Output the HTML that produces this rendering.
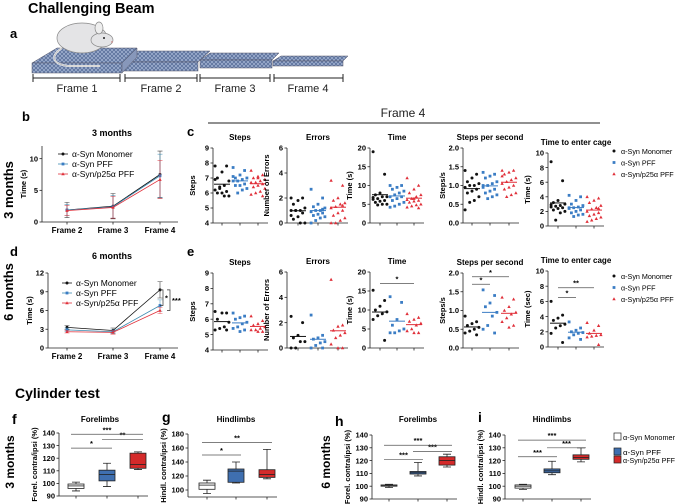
<!DOCTYPE html>
<html><head><meta charset="utf-8"><style>
html,body{margin:0;padding:0;background:#fff;}
svg{display:block;font-family:"Liberation Sans",sans-serif;}
.b{font-weight:bold;}
</style></head><body>
<svg id="fig" width="676" height="504" viewBox="0 0 676 504">
<defs>
<pattern id="hatch" width="4" height="4" patternUnits="userSpaceOnUse">
<rect width="4" height="4" fill="#9fb0d0"/>
<path d="M0,0 L4,4 M4,0 L0,4" stroke="#5a6f9a" stroke-width="0.8"/>
</pattern>
</defs>
<text x="28" y="13" font-size="14.5" class="b">Challenging Beam</text>
<text x="10" y="38" font-size="13" class="b">a</text>
<g>
<polygon points="273,61 281,56 348,56 343,61" fill="url(#hatch)" stroke="#556" stroke-width="0.5"/>
<rect x="273" y="61" width="70" height="5" fill="url(#hatch)" stroke="#556" stroke-width="0.5"/>
<polygon points="200,60 210,53 279,53 272,60" fill="url(#hatch)" stroke="#556" stroke-width="0.5"/>
<rect x="200" y="60" width="72" height="8" fill="url(#hatch)" stroke="#556" stroke-width="0.5"/>
<polygon points="123,62 138,51 210,51 198,62" fill="url(#hatch)" stroke="#556" stroke-width="0.5"/>
<rect x="123" y="62" width="75" height="9" fill="url(#hatch)" stroke="#556" stroke-width="0.5"/>
<polygon points="32,63 57,48 137,48 122,63" fill="url(#hatch)" stroke="#556" stroke-width="0.5"/>
<rect x="32" y="63" width="90" height="10" fill="url(#hatch)" stroke="#556" stroke-width="0.5"/>
<polygon points="122,63 137,48 137,57 122,73" fill="#8797ba" stroke="#556" stroke-width="0.5"/>
<path d="M62,48 C50,56 52,64 68,66 L100,66" fill="none" stroke="#eee" stroke-width="2"/>
<path d="M62,48 C50,56 52,64 68,66 L100,66" fill="none" stroke="#999" stroke-width="0.5"/>
<ellipse cx="82" cy="38" rx="25" ry="15" fill="#e4e4e6" stroke="#888" stroke-width="0.7"/>
<ellipse cx="102" cy="40" rx="11" ry="7" fill="#e4e4e6" stroke="#888" stroke-width="0.7"/>
<ellipse cx="99" cy="28" rx="4" ry="6" fill="#eee" stroke="#888" stroke-width="0.7"/>
<circle cx="104" cy="38" r="1" fill="#222"/>
<circle cx="112" cy="42" r="1" fill="#c99"/>
</g>
<g stroke="#222" stroke-width="1">
<path d="M33,78 H120 M33,74 V82 M120,74 V82 M125,78 H197 M125,74 V82 M197,74 V82 M200,78 H270 M200,74 V82 M270,74 V82 M274,78 H343 M274,74 V82 M343,74 V82"/>
</g>
<g font-size="11" text-anchor="middle" fill="#222">
<text x="77" y="92">Frame 1</text>
<text x="161" y="92">Frame 2</text>
<text x="235" y="92">Frame 3</text>
<text x="308" y="92">Frame 4</text>
<text x="403" y="117" font-size="12">Frame 4</text>
</g>
<line x1="208" y1="123" x2="600" y2="123" stroke="#222" stroke-width="1"/>
<text x="22" y="121" font-size="13" class="b">b</text>
<text x="187" y="136" font-size="13" class="b">c</text>
<text x="10" y="256" font-size="13" class="b">d</text>
<text x="187" y="256" font-size="13" class="b">e</text>
<text transform="translate(13,190) rotate(-90)" font-size="13" class="b" text-anchor="middle">3 months</text>
<text transform="translate(13,292) rotate(-90)" font-size="13" class="b" text-anchor="middle">6 months</text>
<text x="112" y="136" font-size="9" class="b" text-anchor="middle">3 months</text>
<text x="112" y="259" font-size="9" class="b" text-anchor="middle">6 months</text>
<text x="15" y="398" font-size="14" class="b">Cylinder test</text>
<text x="12" y="424" font-size="14" class="b">f</text>
<text x="162" y="422" font-size="14" class="b">g</text>
<text x="335" y="426" font-size="14" class="b">h</text>
<text x="478" y="422" font-size="14" class="b">i</text>
<text transform="translate(14,462) rotate(-90)" font-size="12" class="b" text-anchor="middle">3 months</text>
<text transform="translate(330,462) rotate(-90)" font-size="12" class="b" text-anchor="middle">6 months</text>
</svg>
<script>
// ---- line chart data (b, d) ----
const frames = ["Frame 2","Frame 3","Frame 4"];
const bMono = [1.9, 2.5, 7.5];
const bPFF = [1.9, 2.4, 7.3];
const bP25 = [1.8, 2.3, 6.7];
const bErrMono = [1.2, 2.0, 3.7];
const bErrPFF = [0.9, 1.8, 3.4];
const bErrP25 = [0.8, 1.7, 3.0];
const bTicks = [0, 5, 10];
const dMono = [3.3, 2.8, 9.3];
const dPFF = [2.9, 2.6, 6.8];
const dP25 = [2.6, 2.5, 6.0];
const dErrMono = [0.3, 0.4, 1.3];
const dErrPFF = [0.3, 0.3, 0.9];
const dErrP25 = [0.2, 0.3, 0.5];
const dTicks = [0, 3, 6, 9, 12];
// ---- scatter data (c: 3 months, e: 6 months) ----
const cStepsMono = [7.8,7.8,7.4,7.0,6.8,6.5,6.3,6.2,6.1,6.0,6.0,5.8,5.8,6.4,6.9];
const cStepsPFF = [7.7,7.5,7.2,7.0,7.0,6.9,6.8,6.8,6.6,6.5,6.5,6.3,6.2,6.0,7.1];
const cStepsP25 = [7.5,7.2,7.1,7.0,6.9,6.8,6.7,6.7,6.6,6.5,6.4,6.3,6.1,6.0,5.9,5.8,7.0];
const cErrMono = [2,2,1.8,1.5,1.2,1,1,1,0.8,0.5,0.3,0,0,1,0.6];
const cErrPFF = [2.7,2.0,1.5,1.3,1.2,1.0,1.0,0.9,0.8,0.7,0.6,0.5,0.4,0.2,0,1.1];
const cErrP25 = [3.4,3.0,2.0,1.8,1.6,1.5,1.3,1.2,1.0,0.8,0.6,0.4,0.2,0,0,1.4];
const cTimeMono = [19,13,8,7.5,7,7,6.5,6.3,6,5.8,5.5,5,5,4.8,6.8];
const cTimePFF = [10,10,9.5,9,8.5,8,7.5,7,7,6.5,6,5.5,5,4.5,4.2];
const cTimeP25 = [12,10,9,8,7.5,7,6.5,6.2,6,5.8,5.5,5,4.8,4.5,4.2,4,6.5];
const cSpsMono = [1.4,1.3,1.2,1.1,1.05,1.0,1.0,0.95,0.9,0.85,0.8,0.7,0.6,0.55,0.35];
const cSpsPFF = [1.35,1.3,1.25,1.2,1.1,1.05,1.0,0.95,0.9,0.85,0.8,0.75,0.7,0.65,1.0];
const cSpsP25 = [1.4,1.4,1.35,1.3,1.2,1.15,1.1,1.05,1.0,0.95,0.9,0.8,0.75,0.7,1.25];
const cCageMono = [8.8,6.2,3.5,3.2,3,2.8,2.7,2.6,2.5,2.4,2.2,2,1.8,0.8,2.9];
const cCagePFF = [4.2,4,3.5,3,2.8,2.6,2.5,2.4,2.2,2,1.8,1.6,1.5,1.3,2.5];
const cCageP25 = [4,3.8,3.5,3.2,2.8,2.5,2.3,2,1.8,1.6,1.4,1.2,1,0.8,0.6,2.4];
const eStepsMono = [6.5,6.4,6.4,6.0,5.8,5.5,5.4,5.3,5.3];
const eStepsPFF = [6.4,6.2,6.1,6.0,5.8,5.7,5.5,5.4,5.3,5.2];
const eStepsP25 = [6.2,5.9,5.7,5.6,5.5,5.4,5.3,5.3,5.2,5.2];
const eErrMono = [2.5,2.0,1.0,0.8,0.5,0.5,0,0];
const eErrPFF = [2.6,1.0,0.8,0.7,0.5,0.4,0.2,0,0];
const eErrP25 = [5.4,1.8,1.7,1.4,1.2,1.0,0.8,0.3,0,0];
const eTimeMono = [15.2,12.5,11,10,9.5,9,8.5,7.5,2];
const eTimePFF = [13.5,12,7.5,6,5,4.5,4,4];
const eTimeP25 = [9,8,7.5,7,6.5,6,5,4.5,4,4];
const eSpsMono = [0.85,0.7,0.65,0.6,0.55,0.5,0.45,0.4,0.35];
const eSpsPFF = [1.55,1.4,1.2,1.1,0.95,0.85,0.6,0.5,0.4];
const eSpsP25 = [1.35,1.3,1.1,1.0,0.95,0.9,0.8,0.7,0.6,0.55];
const eCageMono = [6,4.2,3.8,3.5,3,2.8,2.5,1.8,0.6];
const eCagePFF = [3.3,2.5,2.2,2,1.9,1.8,1.6,1.2,1];
const eCageP25 = [3.2,2.8,2.2,1.8,1.6,1.5,1.4,1.3,0.3];
const stepsTicks = [4,5,6,7,8,9];
const errTicks = [0,2,4,6];
const timeTicks = [0,5,10,15,20];
const spsTicks = [0,0.5,1.0,1.5,2.0];
const spsTickLabels = ["0.0","0.5","1.0","1.5","2.0"];
const cageTicks = [0,2,4,6,8,10];
// ---- box plot data (min, q1, median, q3, max) ----
const fMono = [94,96,98,99.5,101];
const fPFF = [97.5,102,107,110.5,116];
const fP25 = [111,112,115,124,125];
const gMono = [95,101,107,110,114];
const gPFF = [110,111,127,130,140];
const gP25 = [116,118,122,129,158];
const hMono = [99,100,100.5,101,101.5];
const hPFF = [108,109.5,110.5,111.5,118.5];
const hP25 = [115,116.5,120,123,125];
const iMono = [97.5,98.5,100,101,101.5];
const iPFF = [109,110.5,112,113.5,119.5];
const iP25 = [119,121,122.5,124.5,130];
const cyl140Ticks = [90,100,110,120,130,140];
const cyl180Ticks = [100,120,140,160,180];
const groupNames = ["α-Syn Monomer","α-Syn PFF","α-Syn/p25α PFF"];

const NS = "http://www.w3.org/2000/svg";
const svg = document.getElementById("fig");
const COL = ["#111111","#3b7dc4","#e0303a"];
const LCOL = ["#111111","#3b8ab0","#e0303a"];
function mk(tag, attrs, parent){
  const e = document.createElementNS(NS, tag);
  for (const k in attrs) e.setAttribute(k, attrs[k]);
  (parent || svg).appendChild(e);
  return e;
}
function txt(x, y, s, attrs, parent){
  const t = mk("text", Object.assign({x:x, y:y, "font-size":8}, attrs||{}), parent);
  t.textContent = s;
  return t;
}
function marker(g, x, y, k){
  let m;
  if (k === 0) m = mk("circle", {cx:x, cy:y, r:1.5, fill:COL[0]}, g);
  else if (k === 1) m = mk("rect", {x:x-1.4, y:y-1.4, width:2.8, height:2.8, fill:COL[1]}, g);
  else m = mk("polygon", {points:(x)+","+(y-1.8)+" "+(x-1.7)+","+(y+1.3)+" "+(x+1.7)+","+(y+1.3), fill:COL[2]}, g);
  return m;
}
function yaxis(g, ax, yTop, yBot, min, max, ticks, labels){
  const sy = v => yBot - (v - min) / (max - min) * (yBot - yTop);
  const a = mk("line", {x1:ax, y1:yTop, x2:ax, y2:yBot, stroke:"#222", "stroke-width":0.8}, g);
  
  
  ticks.forEach((t, i) => {
    mk("line", {x1:ax-2.5, y1:sy(t), x2:ax, y2:sy(t), stroke:"#222", "stroke-width":0.8}, g);
    const lb = txt(ax-4, sy(t)+2.7, labels ? labels[i] : String(t), {"text-anchor":"end", "font-weight":"bold", "font-size":7.5}, g);
    
    
  });
  return sy;
}
function ytitle(g, x, cy, s, size){
  const t = txt(0, 0, s, {transform:"translate("+x+","+cy+") rotate(-90)", "text-anchor":"middle", "font-weight":"bold", "font-size":size||7.5}, g);
  
  
}
function xaxis(g, ax, yBot, gx){
  const end = gx[2] + 10;
  const l = mk("line", {x1:ax, y1:yBot, x2:end, y2:yBot, stroke:"#222", "stroke-width":0.8}, g);
  
  
  gx.forEach(x => mk("line", {x1:x, y1:yBot, x2:x, y2:yBot+2.5, stroke:"#222", "stroke-width":0.8}, g));
}
function sig(g, x1, x2, y, s){
  const l = mk("line", {x1:x1, y1:y, x2:x2, y2:y, stroke:"#555", "stroke-width":0.7}, g);
  
  
  const t = txt((x1+x2)/2, y-2, s, {"text-anchor":"middle", "font-size":7.5, "font-weight":"bold"}, g);
  
  
}
function scatter(name, title, ylab, ax, yTop, yBot, min, max, ticks, labels, series, gx, sigs){
  const g = mk("g", {});
  
  
  const tt = txt(gx[1], yTop-8, title, {"text-anchor":"middle", "font-weight":"bold", "font-size":8}, g);
  
  
  const sy = yaxis(g, ax, yTop, yBot, min, max, ticks, labels);
  xaxis(g, ax, yBot, gx);
  ytitle(g, ax-18, (yTop+yBot)/2, ylab);
  series.forEach((arr, k) => {
    arr.forEach((v, i) => {
      const off = (((i * 5) % 7) - 3) * 2.3;
      const m = marker(g, gx[k] + off, sy(v), k);
      
      
    });
    const mean = arr.reduce((a, b) => a + b, 0) / arr.length;
    const ml = mk("line", {x1:gx[k]-8, y1:sy(mean), x2:gx[k]+8, y2:sy(mean), stroke:COL[k], "stroke-width":1}, g);
    
    
  });
  (sigs||[]).forEach(s => sig(g, gx[s[0]], gx[s[1]], sy(s[2]), s[3]));
}
function linechart(name, ax, yTop, yBot, max, ticks, means, errs, legY, legX, sigs){
  const g = mk("g", {});
  
  
  const gx = [67, 113, 160];
  const sy = yaxis(g, ax, yTop, yBot, 0, max, ticks);
  const xl = mk("line", {x1:ax, y1:yBot, x2:178, y2:yBot, stroke:"#222", "stroke-width":0.8}, g);
  
  
  frames.forEach((f, i) => {
    mk("line", {x1:gx[i], y1:yBot, x2:gx[i], y2:yBot+2.5, stroke:"#222", "stroke-width":0.8}, g);
    const t = txt(gx[i], yBot+11, f, {"text-anchor":"middle", "font-weight":"bold", "font-size":8}, g);
    
    
  });
  ytitle(g, ax-16, (yTop+yBot)/2, "Time (s)");
  means.forEach((arr, k) => {
    const pts = arr.map((v, i) => gx[i]+","+sy(v)).join(" ");
    const pl = mk("polyline", {points:pts, fill:"none", stroke:LCOL[k], "stroke-width":0.8}, g);
    
    
    arr.forEach((v, i) => {
      const e = errs[k][i];
      const eb = mk("path", {d:"M"+gx[i]+","+sy(v-e)+"V"+sy(v+e)+"M"+(gx[i]-2.5)+","+sy(v-e)+"h5M"+(gx[i]-2.5)+","+sy(v+e)+"h5", stroke:LCOL[k], "stroke-width":0.6, fill:"none", opacity:0.8}, g);
      
      
      const m = marker(g, gx[i], sy(v), k);
      
      
    });
    const ly = legY + k*10;
    mk("line", {x1:legX-5, y1:ly, x2:legX+5, y2:ly, stroke:LCOL[k], "stroke-width":0.8}, g);
    const lm = marker(g, legX, ly, k);
    
    
    const lt = txt(legX+9, ly+3, groupNames[k], {"font-size":8.5}, g);
    
    
  });
  (sigs||[]).forEach(s => {
    const y1 = sy(means[s[0]][2]), y2 = sy(means[s[1]][2]);
    const p = mk("path", {d:"M"+(s[2]-3)+","+y1+"H"+s[2]+"V"+y2+"H"+(s[2]-3), stroke:"#333", fill:"none", "stroke-width":0.7}, g);
    
    
    const t = txt(s[2]+2, (y1+y2)/2+3, s[3], {"font-size":7.5, "font-weight":"bold"}, g);
    
    
  });
}
function boxplot(name, title, ylab, ax, yTop, yBot, min, max, ticks, series, gx, sigs, titleX){
  const g = mk("g", {});
  
  
  const tt = txt(titleX || gx[1], 422, title, {"text-anchor":"middle", "font-weight":"bold", "font-size":8}, g);
  
  
  const sy = yaxis(g, ax, yTop, yBot, min, max, ticks);
  xaxis(g, ax, yBot, gx);
  ytitle(g, ax-22, (yTop+yBot)/2, ylab, 7.5);
  const fills = ["#ffffff","#3f6fb0","#d42a2a"];
  series.forEach((s, k) => {
    const x = gx[k], w = 8;
    const wh = mk("path", {d:"M"+x+","+sy(s[0])+"V"+sy(s[1])+"M"+x+","+sy(s[3])+"V"+sy(s[4])+"M"+(x-4)+","+sy(s[0])+"h8M"+(x-4)+","+sy(s[4])+"h8", stroke:"#222", "stroke-width":0.8, fill:"none"}, g);
    
    
    const r = mk("rect", {x:x-w, y:sy(s[3]), width:2*w, height:Math.max(0.8, sy(s[1])-sy(s[3])), fill:fills[k], stroke:"#222", "stroke-width":0.8}, g);
    
    
    const md = mk("line", {x1:x-w, y1:sy(s[2]), x2:x+w, y2:sy(s[2]), stroke:"#222", "stroke-width":0.8}, g);
    
    
  });
  sigs.forEach(s => sig(g, gx[s[0]]-5, gx[s[1]]+5, sy(s[2]), s[3]));
}

linechart("line-chart-b", 42, 146, 222, 12, bTicks, [bMono,bPFF,bP25], [bErrMono,bErrPFF,bErrP25], 154, 63, []);
linechart("line-chart-d", 48, 273, 348, 12, dTicks, [dMono,dPFF,dP25], [dErrMono,dErrPFF,dErrP25], 283, 67, [[0,1,163,"*"],[0,2,170,"***"]]);

const gxSteps=[222,240,258], gxErr=[298,318,338], gxTime=[380,397,414], gxSps=[472,490,509], gxCage=[558,576,594];
scatter("c-steps","Steps","Steps",213,148,223,4,9,stepsTicks,null,[cStepsMono,cStepsPFF,cStepsP25],gxSteps,[]);
scatter("c-errors","Errors","Number of Errors",287,148,223,0,6,errTicks,null,[cErrMono,cErrPFF,cErrP25],gxErr,[]);
scatter("c-time","Time","Time (s)",370,148,223,0,20,timeTicks,null,[cTimeMono,cTimePFF,cTimeP25],gxTime,[]);
scatter("c-steps-per-second","Steps per second","Steps/s",463,148,223,0,2,spsTicks,spsTickLabels,[cSpsMono,cSpsPFF,cSpsP25],gxSps,[]);
scatter("c-time-to-cage","Time to enter cage","Time (s)",548,153,226,0,10,cageTicks,null,[cCageMono,cCagePFF,cCageP25],gxCage,[]);
scatter("e-steps","Steps","Steps",213,273,350,4,9,stepsTicks,null,[eStepsMono,eStepsPFF,eStepsP25],gxSteps,[]);
scatter("e-errors","Errors","Number of Errors",287,272,348,0,6,errTicks,null,[eErrMono,eErrPFF,eErrP25],gxErr,[]);
scatter("e-time","Time","Time (s)",370,272,348,0,20,timeTicks,null,[eTimeMono,eTimePFF,eTimeP25],gxTime,[[0,2,17,"*"]]);
scatter("e-steps-per-second","Steps per second","Steps/s",463,273,348,0,2,spsTicks,spsTickLabels,[eSpsMono,eSpsPFF,eSpsP25],gxSps,[[0,1,1.7,"*"],[0,2,1.9,"*"]]);
scatter("e-time-to-cage","Time to enter cage","Time (sec)",548,271,347,0,10,cageTicks,null,[eCageMono,eCagePFF,eCageP25],gxCage,[[0,1,6.5,"*"],[0,2,7.8,"**"]]);

function scatterLegend(name, y0){
  const g = mk("g", {});
  
  
  groupNames.forEach((n, k) => {
    const m = marker(g, 614, y0 + k*11.5, k);
    
    
    const t = txt(621, y0 + k*11.5 + 2.8, n, {"font-size":7.2}, g);
    
    
  });
}
scatterLegend("legend-c", 151);
scatterLegend("legend-e", 276);

boxplot("box-f","Forelimbs","Forel. contra/ipsi (%)",59,433,496,90,140,cyl140Ticks,[fMono,fPFF,fP25],[76,107,138],[[0,1,128,"*"],[1,2,135,"**"],[0,2,139,"***"]],100);
boxplot("box-g","Hindlimbs","Hindl. contra/ipsi (%)",188,434,497,90,180,cyl180Ticks,[gMono,gPFF,gP25],[207,236,267],[[0,1,150,"*"],[0,2,168,"**"]],236);
boxplot("box-h","Forelimbs","Forel. contra/ipsi (%)",372,435,499,90,140,cyl140Ticks,[hMono,hPFF,hP25],[389,418,447],[[0,1,121,"***"],[1,2,127,"***"],[0,2,132,"***"]],418);
boxplot("box-i","Hindlimbs","Hindl. contra/ipsi (%)",505,435,499,90,140,cyl140Ticks,[iMono,iPFF,iP25],[523,552,581],[[0,1,123,"***"],[1,2,130,"***"],[0,2,136,"***"]],552);

(function(){
  const g = mk("g", {});
  
  
  const fills = ["#ffffff","#3f6fb0","#d42a2a"];
  const ys = [437, 452, 460];
  groupNames.forEach((n, k) => {
    const r = mk("rect", {x:614, y:ys[k]-4, width:7, height:7, fill:fills[k], stroke:"#222", "stroke-width":0.7}, g);
    
    
    const t = txt(623, ys[k]+3, n, {"font-size":7, "textLength":n.length > 12 ? 52 : 38, "lengthAdjust":"spacingAndGlyphs"}, g);
    
    
  });
})();
</script>
</body></html>
